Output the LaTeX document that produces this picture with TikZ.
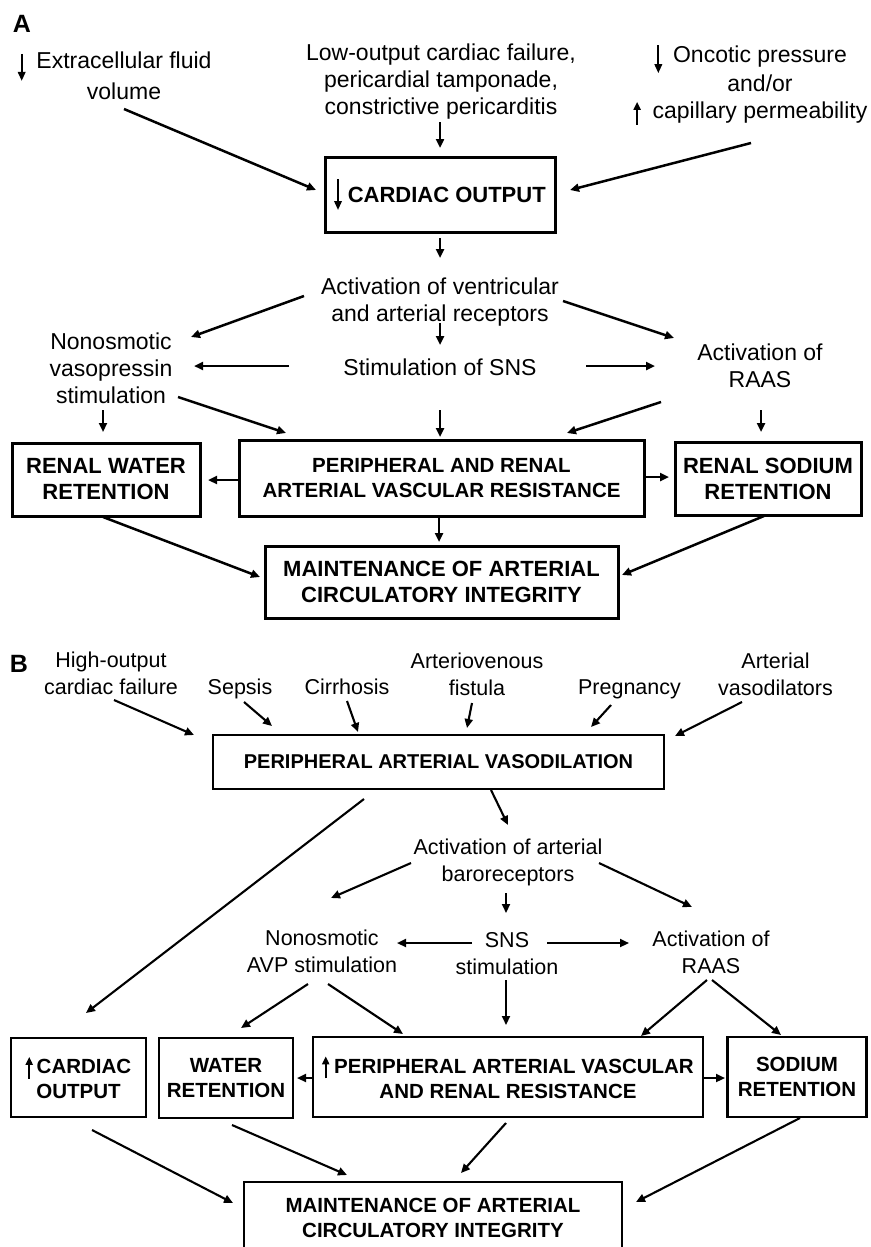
\documentclass[tikz,border=0pt]{standalone}
\usepackage{fontspec}
\setmainfont{Liberation Sans}
\usetikzlibrary{arrows.meta}
\newcommand{\DownGl}[2]{\tikz[baseline=0pt,x=1pt,y=1pt]\draw[line width=2pt,-{Triangle[length=9pt,width=7.5pt]}] (0,#1)--(0,-#2);}
\newcommand{\UpGl}[2]{\tikz[baseline=0pt,x=1pt,y=1pt]\draw[line width=2pt,-{Triangle[length=8pt,width=7pt]}] (0,-#2)--(0,#1);}
\tikzset{
  txtA/.style={align=center, inner sep=0pt, font=\fontsize{23}{27}\selectfont},
  txtB/.style={align=center, inner sep=0pt, font=\fontsize{21.5}{27}\selectfont},
  boxA/.style={draw, line width=3pt, align=center, inner sep=0pt, font=\fontsize{22}{26}\selectfont\bfseries},
  boxB/.style={draw, line width=2.5pt, align=center, inner sep=0pt, font=\fontsize{20.5}{25}\selectfont\bfseries},
  arrA/.style={line width=2.5pt, -{Triangle[length=9pt,width=8pt]}},
  arrB/.style={line width=2.1pt, -{Triangle[length=9pt,width=8pt]}},
  panel/.style={inner sep=0pt, font=\fontsize{25}{25}\selectfont\bfseries}
}
\begin{document}
\begin{tikzpicture}[x=1pt,y=-1pt]
\useasboundingbox (0,0) rectangle (870,1247);
\clip (0,0) rectangle (870,1247);
\fill[white] (0,0) rectangle (870,1247);
% ---------- Panel A ----------
\node[panel] (labA) at (22,24) {A};
\node[txtA] (ecf) at (124,76) {\llap{\DownGl{15}{12}\hspace{11pt}}Extracellular fluid\\volume};
\node[txtA] (lo) at (441,82) {Low-output cardiac failure,\\pericardial tamponade,\\constrictive pericarditis};
\node[txtA] (onc) at (760,85) {\llap{\DownGl{17}{11}\hspace{11pt}}Oncotic pressure\\and/or\\\llap{\UpGl{17}{6}\hspace{12pt}}capillary permeability};
\node[boxA, minimum width=230pt, minimum height=75pt] (co) at (440,194.5) {\DownGl{23}{8}\hspace{6pt}CARDIAC OUTPUT};
\node[txtA] (act) at (440,302) {Activation of ventricular\\and arterial receptors};
\node[txtA] (nvs) at (111,368) {Nonosmotic\\vasopressin\\stimulation};
\node[txtA] (sns) at (440,367) {Stimulation of SNS};
\node[txtA] (raas) at (760,365.5) {Activation of\\RAAS};
\node[boxA, minimum width=188pt, minimum height=73pt] (rwr) at (106,479.5) {RENAL WATER\\RETENTION};
\node[boxA, font=\fontsize{20.5}{25.5}\selectfont\bfseries, minimum width=405pt, minimum height=76pt] (par) at (441.5,478) {PERIPHERAL AND RENAL\\ARTERIAL VASCULAR RESISTANCE};
\node[boxA, minimum width=186pt, minimum height=73pt] (rsr) at (768,478.5) {RENAL SODIUM\\RETENTION};
\node[boxA, minimum width=353pt, minimum height=72pt] (mai) at (441.5,582) {MAINTENANCE OF ARTERIAL\\CIRCULATORY INTEGRITY};
% connectors A
\draw[arrA] ([shift={(0,33)}]ecf.center) -- ([shift={(-124,-4.5)}]co.center);
\draw[arrA] ([shift={(-1,40)}]lo.center) -- ([shift={(0,-46.5)}]co.center);
\draw[arrA] ([shift={(-9,58)}]onc.center) -- ([shift={(130,-4.5)}]co.center);
\draw[arrA] ([shift={(0,43.5)}]co.center) -- ([shift={(0,-44)}]act.center);
\draw[arrA] ([shift={(-136,-6)}]act.center) -- ([shift={(80,-31)}]nvs.center);
\draw[arrA] ([shift={(0,21)}]act.center) -- ([shift={(0,-22)}]sns.center);
\draw[arrA] ([shift={(123,-1)}]act.center) -- ([shift={(-86,-27.5)}]raas.center);
\draw[arrA] ([shift={(-151,-1)}]sns.center) -- ([shift={(83,-2)}]nvs.center);
\draw[arrA] ([shift={(146,-1)}]sns.center) -- ([shift={(-105,0.5)}]raas.center);
\draw[arrA] ([shift={(-8,42)}]nvs.center) -- ([shift={(-3,-47.5)}]rwr.center);
\draw[arrA] ([shift={(67,29)}]nvs.center) -- ([shift={(-155.5,-45)}]par.center);
\draw[arrA] ([shift={(0,43)}]sns.center) -- ([shift={(-1.5,-41)}]par.center);
\draw[arrA] ([shift={(-99,36.5)}]raas.center) -- ([shift={(125.5,-45)}]par.center);
\draw[arrA] ([shift={(1,44.5)}]raas.center) -- ([shift={(-7,-46.5)}]rsr.center);
\draw[arrA] ([shift={(-202.5,2)}]par.center) -- ([shift={(102,0.5)}]rwr.center);
\draw[arrA] ([shift={(202.5,-1)}]par.center) -- ([shift={(-99,-1.5)}]rsr.center);
\draw[arrA] ([shift={(-2.5,38)}]par.center) -- ([shift={(-2.5,-40)}]mai.center);
\draw[arrA] ([shift={(-3,37.5)}]rwr.center) -- ([shift={(-181.5,-5)}]mai.center);
\draw[arrA] ([shift={(-4,37.5)}]rsr.center) -- ([shift={(180.5,-7)}]mai.center);
% ---------- Panel B ----------
\node[panel] (labB) at (19,664) {B};
\node[txtB] (hoc) at (111,673.5) {High-output\\cardiac failure};
\node[txtB] (sep) at (240,689) {Sepsis};
\node[txtB] (cir) at (347,687) {Cirrhosis};
\node[txtB] (avf) at (477,674.5) {Arteriovenous\\fistula};
\node[txtB] (pre) at (629.5,689) {Pregnancy};
\node[txtB] (avd) at (775.5,674.5) {Arterial\\vasodilators};
\node[boxB, font=\fontsize{20}{24}\selectfont\bfseries, minimum width=451pt, minimum height=54pt] (pav) at (438.5,762) {PERIPHERAL ARTERIAL VASODILATION};
\node[txtB] (aab) at (508,862) {Activation of arterial\\baroreceptors};
\node[txtB] (avp) at (322,951) {Nonosmotic\\AVP stimulation};
\node[txtB] (ssn) at (507,953.5) {SNS\\stimulation};
\node[txtB] (raasb) at (711,952.5) {Activation of\\RAAS};
\node[boxB, minimum width=135pt, minimum height=79pt] (cob) at (78.5,1077.5) {\UpGl{17}{5}\hspace{4pt}CARDIAC\\OUTPUT};
\node[boxB, minimum width=134pt, minimum height=80pt] (wrb) at (226,1078) {WATER\\RETENTION};
\node[boxB, minimum width=390pt, minimum height=80pt] (prb) at (508,1077) {\UpGl{17}{5}\hspace{5pt}PERIPHERAL ARTERIAL VASCULAR\\AND RENAL RESISTANCE};
\node[boxB, minimum width=139pt, minimum height=80pt] (srb) at (797,1077) {SODIUM\\RETENTION};
\node[boxB, minimum width=378pt, minimum height=72pt] (maib) at (433,1218) {MAINTENANCE OF ARTERIAL\\CIRCULATORY INTEGRITY};
% connectors B
\draw[arrB] ([shift={(3,26.5)}]hoc.center) -- ([shift={(-244.5,-27)}]pav.center);
\draw[arrB] ([shift={(4,13)}]sep.center) -- ([shift={(-166.5,-36)}]pav.center);
\draw[arrB] ([shift={(0,14)}]cir.center) -- ([shift={(-80.5,-30)}]pav.center);
\draw[arrB] ([shift={(-5,28.5)}]avf.center) -- ([shift={(28.5,-34)}]pav.center);
\draw[arrB] ([shift={(-18.5,16)}]pre.center) -- ([shift={(152.5,-35)}]pav.center);
\draw[arrB] ([shift={(-33.5,27.5)}]avd.center) -- ([shift={(236.5,-26)}]pav.center);
\draw[arrB] ([shift={(52.5,28)}]pav.center) -- ([shift={(0,-37)}]aab.center);
\draw[arrB] ([shift={(-74.5,37)}]pav.center) -- ([shift={(7.5,-64.5)}]cob.center);
\draw[arrB] ([shift={(-97,1)}]aab.center) -- ([shift={(9,-53)}]avp.center);
\draw[arrB] ([shift={(-2,31)}]aab.center) -- ([shift={(-1,-40.5)}]ssn.center);
\draw[arrB] ([shift={(91,1)}]aab.center) -- ([shift={(-19,-45.5)}]raasb.center);
\draw[arrB] ([shift={(-35,-10.5)}]ssn.center) -- ([shift={(75,-8)}]avp.center);
\draw[arrB] ([shift={(40,-10.5)}]ssn.center) -- ([shift={(-82,-9.5)}]raasb.center);
\draw[arrB] ([shift={(-14,33)}]avp.center) -- ([shift={(15,-50)}]wrb.center);
\draw[arrB] ([shift={(6,33)}]avp.center) -- ([shift={(-105,-43)}]prb.center);
\draw[arrB] ([shift={(-1,26.5)}]ssn.center) -- ([shift={(-2,-52)}]prb.center);
\draw[arrB] ([shift={(-4,27.5)}]raasb.center) -- ([shift={(133,-41)}]prb.center);
\draw[arrB] ([shift={(1,27.5)}]raasb.center) -- ([shift={(-16,-42)}]srb.center);
\draw[arrB] ([shift={(-195,1)}]prb.center) -- ([shift={(71,0)}]wrb.center);
\draw[arrB] ([shift={(195,1)}]prb.center) -- ([shift={(-72,1)}]srb.center);
\draw[arrB] ([shift={(13.5,52.5)}]cob.center) -- ([shift={(-200,-15)}]maib.center);
\draw[arrB] ([shift={(6,47)}]wrb.center) -- ([shift={(-86,-43)}]maib.center);
\draw[arrB] ([shift={(-2,46)}]prb.center) -- ([shift={(28,-45)}]maib.center);
\draw[arrB] ([shift={(3,41)}]srb.center) -- ([shift={(203,-16)}]maib.center);
\end{tikzpicture}
\end{document}
